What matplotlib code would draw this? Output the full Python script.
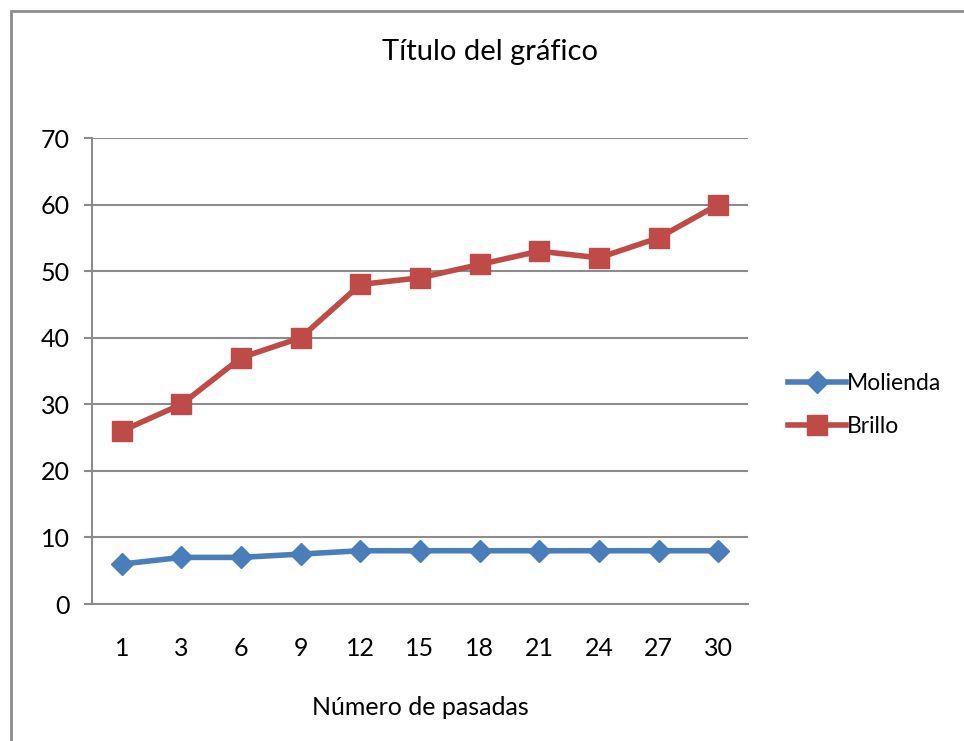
import matplotlib.pyplot as plt
from matplotlib.patches import Rectangle

plt.rcParams['font.family'] = ['Lato', 'DejaVu Sans']

# pasadas and measured series
pasadas = ['1', '3', '6', '9', '12', '15', '18', '21', '24', '27', '30']
molienda = [6, 7, 7, 7.5, 8, 8, 8, 8, 8, 8, 8]
brillo = [26, 30, 37, 40, 48, 49, 51, 53, 52, 55, 60]

W, H = 964, 741
fig = plt.figure(figsize=(W / 100, H / 100), dpi=100)

# chart frame (runs off the right and bottom edges)
fig.patches.append(Rectangle((11 / W, -0.1), 1.2, 1 - 11 / H + 0.1,
                             transform=fig.transFigure, fill=False,
                             edgecolor='#8c8c8c', linewidth=2))

ax = fig.add_axes([92 / W, 1 - 604 / H, (748 - 92) / W, (604 - 138) / H])
x = range(len(pasadas))

ax.plot(x, molienda, color='#4a7ebb', linewidth=4, marker='D',
        markersize=11, label='Molienda', zorder=3)
ax.plot(x, brillo, color='#be4b48', linewidth=4, marker='s',
        markersize=14, label='Brillo', zorder=3)

ax.set_xlim(-0.5, len(pasadas) - 0.5)
ax.set_ylim(0, 70)
ax.set_yticks(range(0, 71, 10))
ax.set_xticks(list(x))
ax.set_xticklabels(pasadas)
ax.grid(axis='y', color='#8c8c8c', linewidth=1.5)
ax.set_axisbelow(True)
for s in ['top', 'right']:
    ax.spines[s].set_visible(False)
for s in ['left', 'bottom']:
    ax.spines[s].set_color('#8c8c8c')
    ax.spines[s].set_linewidth(1.5)
ax.tick_params(axis='y', length=6, width=1.5, color='#8c8c8c',
               labelsize=18, pad=10)
ax.tick_params(axis='x', length=0, labelsize=18, pad=24)

ax.set_xlabel('Número de pasadas', fontsize=18, labelpad=26)
fig.text(490 / W, 1 - 52 / H, 'Título del gráfico', fontsize=21,
         ha='center', va='center')

leg = ax.legend(loc='center left', bbox_to_anchor=(1.03, 0.427),
                frameon=False, fontsize=16.5, handlelength=2.5,
                handletextpad=0.05, labelspacing=0.95)

fig.savefig('out.png', dpi=100)
